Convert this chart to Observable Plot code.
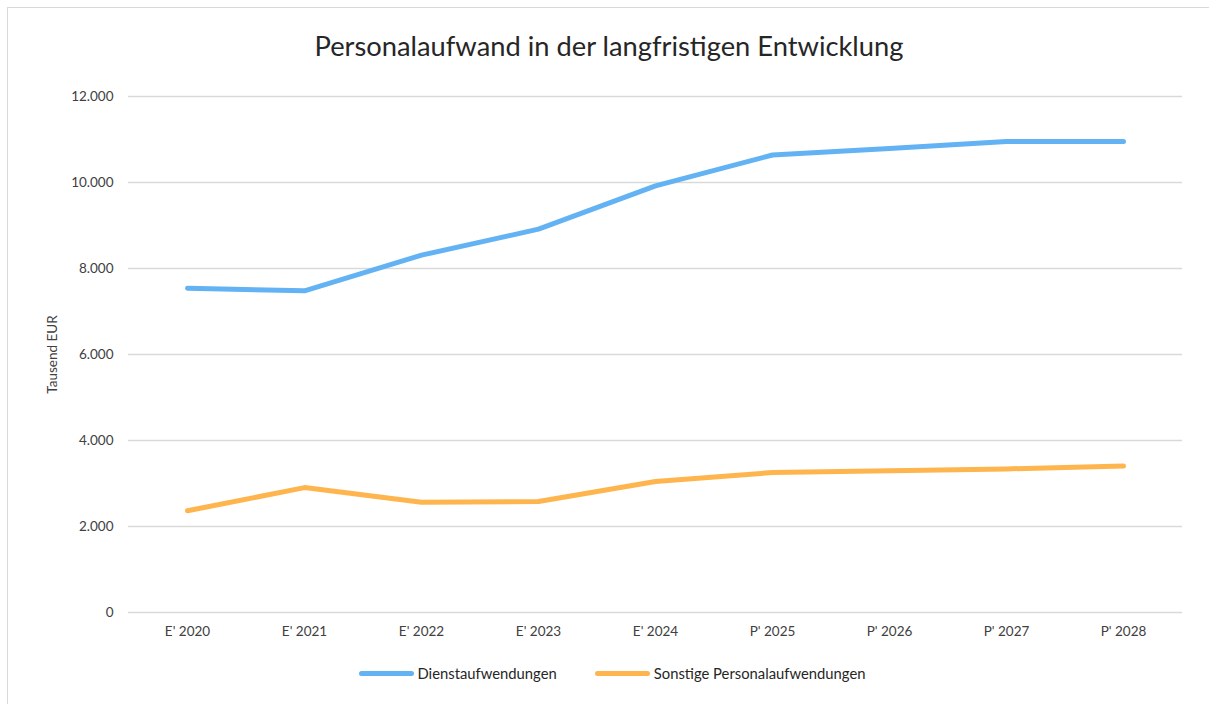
<!DOCTYPE html>
<html><head><meta charset="utf-8">
<script src="https://cdn.jsdelivr.net/npm/d3@7"></script>
<script src="https://cdn.jsdelivr.net/npm/@observablehq/plot@0.6"></script>
<style>
body{margin:0;background:#fff;font-family:Lato,"Open Sans",sans-serif;}
#wrap{position:relative;width:1209px;height:704px;overflow:hidden;background:#fff;}
#frame{position:absolute;left:7px;top:7px;width:1300px;height:800px;border-left:1.5px solid #d9d9d9;border-top:1.5px solid #d9d9d9;}
#title{position:absolute;left:9px;top:29px;width:1200px;text-align:center;font-size:27.3px;line-height:34px;color:#262626;}
#chart{position:absolute;left:0;top:80px;}
#legend{position:absolute;left:0;top:664px;width:1224px;display:flex;justify-content:center;align-items:center;font-size:14.8px;color:#262626;}
.item{display:flex;align-items:center;}
.sw{width:55px;height:5px;border-radius:3px;margin-right:4px;}
</style>
</head><body>
<div id="wrap">
<div id="frame"></div>
<div id="title">Personalaufwand in der langfristigen Entwicklung</div>
<div id="chart"></div>
<div id="legend"></div>
</div>
<script>
const categories = ["E' 2020","E' 2021","E' 2022","E' 2023","E' 2024","P' 2025","P' 2026","P' 2027","P' 2028"];
const dienstaufwendungen = [7540, 7480, 8310, 8915, 9920, 10640, 10790, 10955, 10955];
const sonstige = [2365, 2905, 2565, 2580, 3045, 3255, 3295, 3340, 3405];
const seriesNames = ["Dienstaufwendungen", "Sonstige Personalaufwendungen"];
const seriesColors = ["#63b3f4", "#ffb54d"];
const yTicks = [0, 2000, 4000, 6000, 8000, 10000, 12000];
const yLabel = "Tausend EUR";

const de = d3.formatLocale({decimal: ",", thousands: ".", grouping: [3], currency: ["", " €"]});
const fmt = de.format(",.0f");

const rows = [];
categories.forEach((c, i) => {
  rows.push({cat: c, series: seriesNames[0], value: dienstaufwendungen[i]});
});
categories.forEach((c, i) => {
  rows.push({cat: c, series: seriesNames[1], value: sonstige[i]});
});

const chart = Plot.plot({
  width: 1209,
  height: 580,
  marginLeft: 128,
  marginRight: 27,
  marginTop: 16,
  marginBottom: 48,
  style: {fontFamily: "Lato, 'Open Sans', sans-serif", background: "transparent"},
  x: {type: "point", domain: categories, padding: 0.5},
  y: {domain: [0, 12000]},
  color: {domain: seriesNames, range: seriesColors},
  marks: [
    Plot.gridY(yTicks, {stroke: "#d9d9d9", strokeOpacity: 1, strokeWidth: 1.5}),
    Plot.axisY({ticks: yTicks, tickFormat: fmt, tickSize: 0, tickPadding: 15, fontSize: 13.5, color: "#404040",
      label: yLabel, labelAnchor: "center", labelOffset: 81, labelArrow: "none"}),
    Plot.axisX({tickSize: 0, tickPadding: 14, fontSize: 13.5, color: "#404040", label: null}),
    Plot.line(rows, {x: "cat", y: "value", z: "series", stroke: "series", strokeWidth: 5,
      strokeLinecap: "round", strokeLinejoin: "round"})
  ]
});
document.getElementById("chart").appendChild(chart);

const leg = document.getElementById("legend");
seriesNames.forEach((n, i) => {
  const it = document.createElement("div");
  it.className = "item";
  if (i > 0) it.style.marginLeft = "38px";
  const sw = document.createElement("div");
  sw.className = "sw";
  sw.style.background = seriesColors[i];
  const t = document.createElement("span");
  t.textContent = n;
  it.appendChild(sw); it.appendChild(t);
  leg.appendChild(it);
});
</script>
</body></html>
